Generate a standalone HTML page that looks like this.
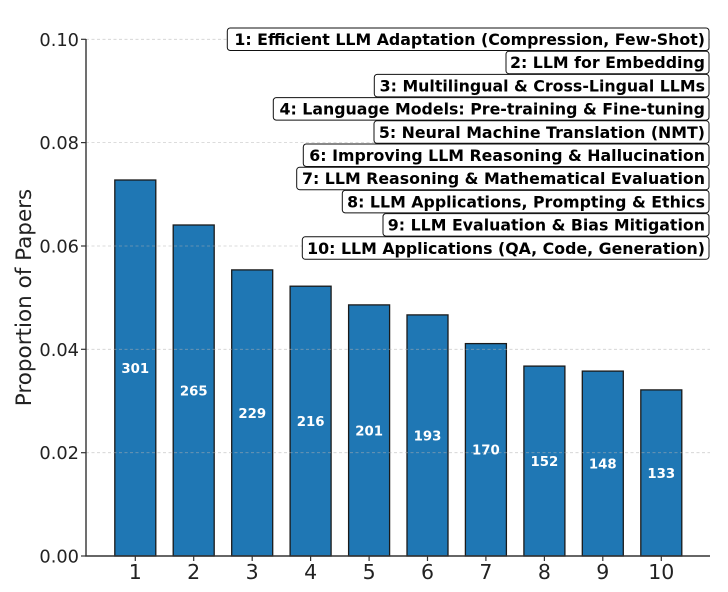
<!DOCTYPE html>
<html><head><meta charset="utf-8"><style>
html,body{margin:0;padding:0;background:#fff;}
svg{display:block;}
text{font-family:"DejaVu Sans","Liberation Sans",sans-serif;}
</style></head><body>
<svg width="728" height="592" viewBox="0 0 728 592" xmlns="http://www.w3.org/2000/svg">
<rect width="728" height="592" fill="#fff"/>
<!-- bars -->
<g fill="#1f77b4" stroke="#1a1a1a" stroke-width="1.3">
<rect x="114.8" y="180.0" width="41" height="376.0"/>
<rect x="173.2" y="225.0" width="41" height="331.0"/>
<rect x="231.7" y="269.9" width="41" height="286.1"/>
<rect x="290.1" y="286.2" width="41" height="269.8"/>
<rect x="348.6" y="304.9" width="41" height="251.1"/>
<rect x="407.0" y="314.9" width="41" height="241.1"/>
<rect x="465.4" y="343.6" width="41" height="212.4"/>
<rect x="523.9" y="366.1" width="41" height="189.9"/>
<rect x="582.3" y="371.1" width="41" height="184.9"/>
<rect x="640.8" y="389.9" width="41" height="166.1"/>
</g>
<!-- grid (drawn over bars, translucent) -->
<g stroke="#b0b0b0" stroke-opacity="0.6" stroke-width="0.8" stroke-dasharray="3,2.5">
<line x1="86" y1="39.3" x2="710" y2="39.3"/>
<line x1="86" y1="142.6" x2="710" y2="142.6"/>
<line x1="86" y1="246" x2="710" y2="246"/>
<line x1="86" y1="349.3" x2="710" y2="349.3"/>
<line x1="86" y1="452.7" x2="710" y2="452.7"/>
</g>
<!-- bar labels -->
<g fill="#fff" font-weight="bold" font-size="13.3" text-anchor="middle">
<text x="135.3" y="372.9">301</text>
<text x="193.7" y="395.4">265</text>
<text x="252.2" y="417.8">229</text>
<text x="310.6" y="426.0">216</text>
<text x="369.1" y="435.4">201</text>
<text x="427.5" y="440.3">193</text>
<text x="485.9" y="454.7">170</text>
<text x="544.4" y="465.9">152</text>
<text x="602.8" y="468.4">148</text>
<text x="661.3" y="477.8">133</text>
</g>
<!-- spines -->
<line x1="86" y1="39" x2="86" y2="556.5" stroke="#333" stroke-width="1.4"/>
<line x1="85.3" y1="556" x2="710" y2="556" stroke="#333" stroke-width="1.4"/>
<!-- y ticks -->
<g stroke="#333" stroke-width="1.2">
<line x1="81" y1="39.3" x2="86" y2="39.3"/>
<line x1="81" y1="142.6" x2="86" y2="142.6"/>
<line x1="81" y1="246" x2="86" y2="246"/>
<line x1="81" y1="349.3" x2="86" y2="349.3"/>
<line x1="81" y1="452.7" x2="86" y2="452.7"/>
<line x1="81" y1="556" x2="86" y2="556"/>
</g>
<g fill="#222" font-size="17.8" text-anchor="end">
<text x="79" y="45.8">0.10</text>
<text x="79" y="149.1">0.08</text>
<text x="79" y="252.5">0.06</text>
<text x="79" y="355.8">0.04</text>
<text x="79" y="459.2">0.02</text>
<text x="79" y="562.5">0.00</text>
</g>
<!-- x ticks -->
<g stroke="#333" stroke-width="1.2">
<line x1="135.3" y1="556" x2="135.3" y2="561"/>
<line x1="193.7" y1="556" x2="193.7" y2="561"/>
<line x1="252.2" y1="556" x2="252.2" y2="561"/>
<line x1="310.6" y1="556" x2="310.6" y2="561"/>
<line x1="369.1" y1="556" x2="369.1" y2="561"/>
<line x1="427.5" y1="556" x2="427.5" y2="561"/>
<line x1="485.9" y1="556" x2="485.9" y2="561"/>
<line x1="544.4" y1="556" x2="544.4" y2="561"/>
<line x1="602.8" y1="556" x2="602.8" y2="561"/>
<line x1="661.3" y1="556" x2="661.3" y2="561"/>
</g>
<g fill="#222" font-size="20.5" text-anchor="middle">
<text x="135.3" y="579.2">1</text>
<text x="193.7" y="579.2">2</text>
<text x="252.2" y="579.2">3</text>
<text x="310.6" y="579.2">4</text>
<text x="369.1" y="579.2">5</text>
<text x="427.5" y="579.2">6</text>
<text x="485.9" y="579.2">7</text>
<text x="544.4" y="579.2">8</text>
<text x="602.8" y="579.2">9</text>
<text x="661.3" y="579.2">10</text>
</g>
<!-- y label -->
<text transform="translate(31,297.5) rotate(-90)" text-anchor="middle" font-size="21.5" fill="#222">Proportion of Papers</text>
<!-- legend boxes -->
<g fill="#fff" stroke="#111" stroke-width="1">
<rect x="227.3" y="28.0" width="481.7" height="22.5" rx="3"/>
<rect x="506.0" y="51.2" width="203.0" height="22.5" rx="3"/>
<rect x="374.3" y="74.4" width="334.7" height="22.5" rx="3"/>
<rect x="273.3" y="97.6" width="435.7" height="22.5" rx="3"/>
<rect x="374.0" y="120.8" width="335.0" height="22.5" rx="3"/>
<rect x="303.3" y="144.0" width="405.7" height="22.5" rx="3"/>
<rect x="296.7" y="167.2" width="412.3" height="22.5" rx="3"/>
<rect x="342.3" y="190.4" width="366.7" height="22.5" rx="3"/>
<rect x="383.0" y="213.6" width="326.0" height="22.5" rx="3"/>
<rect x="302.3" y="236.8" width="406.7" height="22.5" rx="3"/>
</g>
<g fill="#000" font-weight="bold" font-size="15.8" text-anchor="end">
<text x="705" y="45.0">1: Efficient LLM Adaptation (Compression, Few-Shot)</text>
<text x="705" y="68.2">2: LLM for Embedding</text>
<text x="705" y="91.4">3: Multilingual &amp; Cross-Lingual LLMs</text>
<text x="705" y="114.6">4: Language Models: Pre-training &amp; Fine-tuning</text>
<text x="705" y="137.8">5: Neural Machine Translation (NMT)</text>
<text x="705" y="161.0">6: Improving LLM Reasoning &amp; Hallucination</text>
<text x="705" y="184.2">7: LLM Reasoning &amp; Mathematical Evaluation</text>
<text x="705" y="207.4">8: LLM Applications, Prompting &amp; Ethics</text>
<text x="705" y="230.6">9: LLM Evaluation &amp; Bias Mitigation</text>
<text x="705" y="253.8">10: LLM Applications (QA, Code, Generation)</text>
</g>
</svg>
</body></html>
